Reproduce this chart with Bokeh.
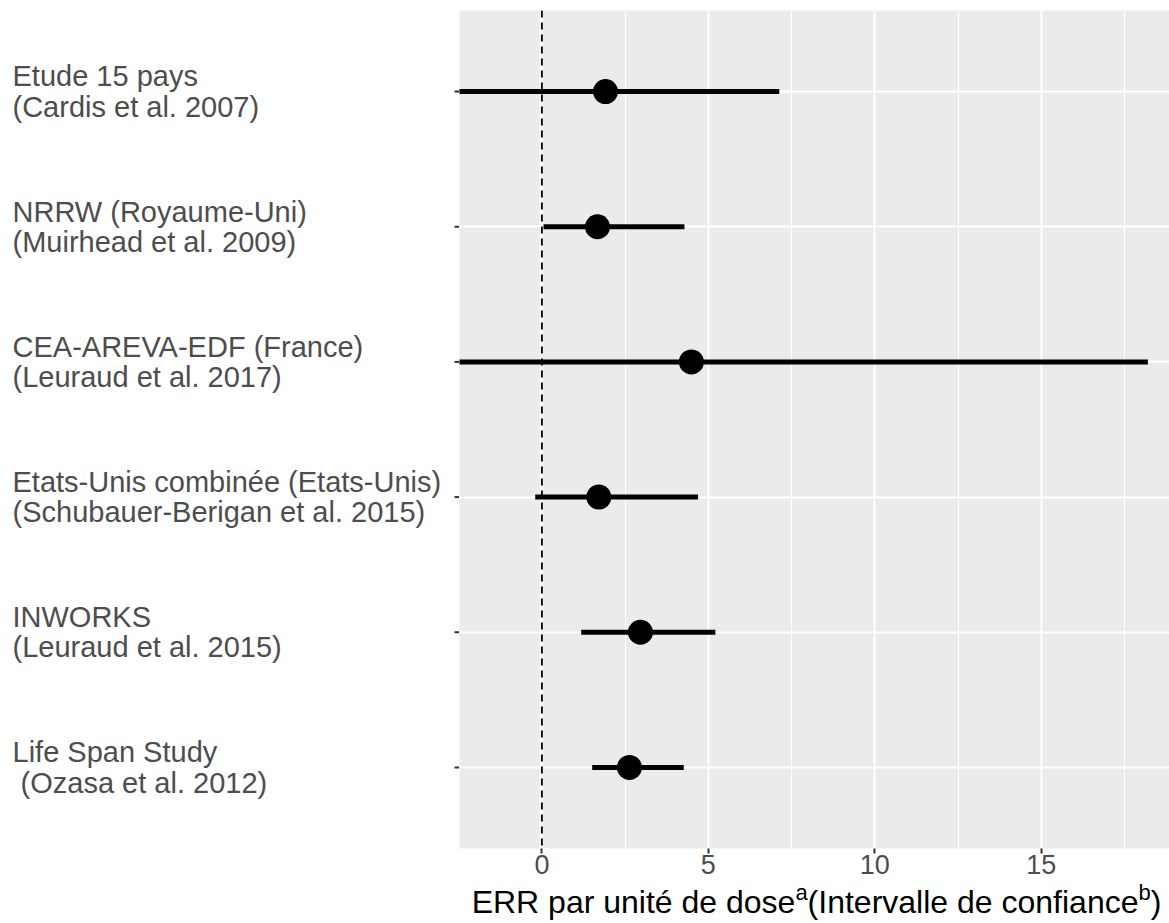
import glob
from bokeh.plotting import figure
from bokeh.layouts import row, column
from bokeh.models import Range1d, ColumnDataSource, FixedTicker, Grid, Span
from bokeh.core.properties import value
from bokeh.embed import file_html
from bokeh.resources import INLINE

# Studies, top to bottom
studies = [
    "Etude 15 pays\n(Cardis et al. 2007)",
    "NRRW (Royaume-Uni)\n(Muirhead et al. 2009)",
    "CEA-AREVA-EDF (France)\n(Leuraud et al. 2017)",
    "Etats-Unis combinée (Etats-Unis)\n(Schubauer-Berigan et al. 2015)",
    "INWORKS\n(Leuraud et al. 2015)",
    "Life Span Study\n\u00a0(Ozasa et al. 2012)",
]
# ERR per unit dose and confidence bounds (lower bounds below the axis are cut off)
err = [1.91, 1.67, 4.49, 1.71, 2.96, 2.63]
ci_low = [-3.0, 0.05, -3.0, -0.20, 1.18, 1.51]
ci_high = [7.13, 4.28, 18.2, 4.69, 5.21, 4.26]
x_ticks = [0, 5, 10, 15]
x_minor = [-2.5, 2.5, 7.5, 12.5, 17.5]
# x-axis title pieces: text, superscript, text, superscript, text
title_parts = ["ERR par unité de dose", "a", "(Intervalle de confiance", "b", ")"]

FONT = "Liberation Sans"
LABEL_PX, TICK_PX, TITLE_PX, SUP_PX = 29, 27, 32, 22

n = len(studies)
ypos = list(range(n, 0, -1))
src = ColumnDataSource(dict(y=ypos, err=err, lo=ci_low, hi=ci_high, label=studies))

y_range = Range1d(0.4, n + 0.6)
TOP, BOTTOM = 10, 30
LEFT_W, PANEL_W, TOTAL_W = 459, 710, 1169
MAIN_H, TITLE_H = 878, 45


def text_width(s, px):
    """Advance width of a string in the label font, measured with Pillow when possible."""
    try:
        from PIL import ImageFont
        paths = glob.glob("/usr/share/fonts/**/LiberationSans-Regular.ttf", recursive=True)
        f = ImageFont.truetype(paths[0], px)
        return f.getlength(s)
    except Exception:
        return 0.5 * px * len(s)


# --- main panel ---
p = figure(width=PANEL_W, height=MAIN_H, x_range=Range1d(-2.475, 18.85), y_range=y_range,
           y_axis_type=None, output_backend="svg", toolbar_location=None,
           min_border_left=0, min_border_right=0, min_border_top=TOP, min_border_bottom=BOTTOM)
p.background_fill_color = "#EBEBEB"
p.border_fill_color = "white"
p.outline_line_color = None

p.xgrid.ticker = FixedTicker(ticks=x_ticks)
p.xgrid.grid_line_color = "white"
p.xgrid.grid_line_width = 2
p.add_layout(Grid(dimension=0, ticker=FixedTicker(ticks=x_minor),
                  grid_line_color="white", grid_line_width=1))
p.add_layout(Grid(dimension=1, ticker=FixedTicker(ticks=ypos),
                  grid_line_color="white", grid_line_width=2))

ax = p.xaxis[0]
ax.ticker = FixedTicker(ticks=x_ticks, minor_ticks=[])
ax.axis_line_color = None
ax.major_tick_line_color = "#333333"
ax.major_tick_line_width = 2
ax.major_tick_in = 0
ax.major_tick_out = 5
ax.minor_tick_line_color = None
ax.major_label_text_font = FONT
ax.major_label_text_font_size = f"{TICK_PX}px"
ax.major_label_text_color = "#4D4D4D"
ax.major_label_standoff = 1

p.add_layout(Span(location=0, dimension="height", line_color="black",
                  line_width=1.8, line_dash="7 5"))

p.segment(x0="lo", y0="y", x1="hi", y1="y", source=src,
          line_color="black", line_width=5, line_cap="butt")
p.scatter(x="err", y="y", source=src, size=25, fill_color="black", line_color=None)

# --- study labels and y tick marks ---
lab = figure(width=LEFT_W, height=MAIN_H, x_range=Range1d(0, LEFT_W), y_range=y_range,
             x_axis_type=None, y_axis_type=None, output_backend="svg", toolbar_location=None,
             min_border_left=0, min_border_right=0, min_border_top=TOP, min_border_bottom=BOTTOM)
lab.outline_line_color = None
lab.background_fill_color = "white"
lab.border_fill_color = "white"
lab.text(x=12, y="y", text="label", source=src, text_font=value(FONT),
         text_font_size=f"{LABEL_PX}px", text_color="#4D4D4D", text_align="left",
         text_baseline="middle", text_line_height=0.95)
lab.segment(x0=LEFT_W - 5, y0="y", x1=LEFT_W, y1="y", source=src,
            line_color="#333333", line_width=2)

# --- x-axis title with superscripts, centred under the panel ---
ttl = figure(width=TOTAL_W, height=TITLE_H, x_range=Range1d(0, TOTAL_W), y_range=Range1d(0, TITLE_H),
             x_axis_type=None, y_axis_type=None, output_backend="svg", toolbar_location=None,
             min_border=0)
ttl.outline_line_color = None
ttl.background_fill_color = "white"
ttl.border_fill_color = "white"

sizes = [TITLE_PX, SUP_PX, TITLE_PX, SUP_PX, TITLE_PX]
mid = [22, 31, 22, 31, 22]
widths = [text_width(s, px) for s, px in zip(title_parts, sizes)]
centre = LEFT_W + (TOTAL_W + 4 - LEFT_W) / 2
x = centre - sum(widths) / 2
for s, px, ym, w in zip(title_parts, sizes, mid, widths):
    ttl.text(x=[x], y=[ym], text=[s], text_font=value(FONT), text_font_size=f"{px}px",
             text_color="black", text_align="left", text_baseline="middle")
    x += w

layout = column(row(lab, p, spacing=0), ttl, spacing=0)
open("out.html", "w").write(file_html(layout, INLINE))
